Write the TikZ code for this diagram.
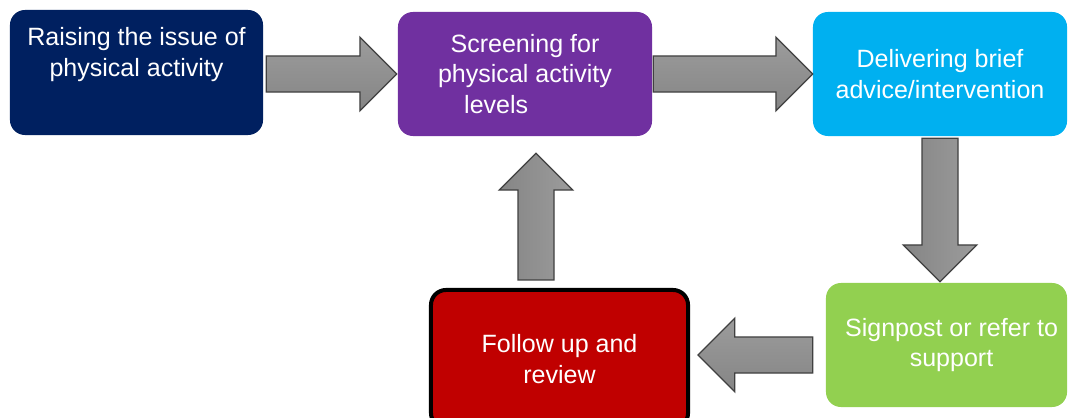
\documentclass[tikz,border=0pt]{standalone}
\usepackage{fontspec}
\setmainfont{Liberation Sans}
\usetikzlibrary{calc, positioning}
\definecolor{boxnavy}{HTML}{002060}
\definecolor{boxpurple}{HTML}{7030A0}
\definecolor{boxcyan}{HTML}{00B0F0}
\definecolor{boxgreen}{HTML}{92D050}
\definecolor{boxred}{HTML}{C00000}
\definecolor{arrowdark}{HTML}{858585}
\definecolor{arrowlight}{HTML}{9C9C9C}
\definecolor{arrowline}{HTML}{404040}
\tikzset{
    stage/.style={rectangle, rounded corners=0.375cm, inner sep=0pt, minimum width=6.35cm, minimum height=3.1cm, align=center, text=white, font=\fontsize{17.8pt}{22pt}\selectfont},
    fatarrow/.style={draw=arrowline, line width=0.9pt, line join=miter, top color=arrowlight, bottom color=arrowdark},
    vshade/.style={left color=arrowdark, right color=arrowlight}
}
% block arrow from tail #2 to tip #3
\newcommand{\fatarrow}[3][]{%
    \coordinate (fa-b) at ($(#3)!0.92cm!(#2)$);
    \draw[fatarrow,#1] ($(#2)!0.45cm!90:(#3)$) -- ($(fa-b)!0.45cm!90:(#3)$) -- ($(fa-b)!0.92cm!90:(#3)$)
        -- (#3) -- ($(fa-b)!0.92cm!-90:(#3)$) -- ($(fa-b)!0.45cm!-90:(#3)$) -- ($(#2)!0.45cm!-90:(#3)$) -- cycle;
}

\begin{document}
\begin{tikzpicture}[x=0.025cm, y=-0.025cm]
    \useasboundingbox (0,0) rectangle (1069,418);
    \clip (0,0) rectangle (1069,418);

    % Stages
    \node[stage, fill=boxnavy, minimum width=6.325cm, minimum height=3.125cm] (raise) at (136.5,72.5) {Raising the issue of\\physical activity\\\strut};
    \node[stage, fill=boxpurple] (screen) at (525,74) {Screening for\\physical activity\\levels\hspace*{2.3em}};
    \node[stage, fill=boxcyan] (deliver) at (940,74) {Delivering brief\\advice/intervention};
    \node[stage, fill=boxgreen, minimum width=6.025cm] (signpost) at (946.5,345) {\hspace*{0.4em}Signpost or refer to\\\hspace*{0.4em}support};
    \node[stage, fill=boxred, draw=black, line width=0.1cm, minimum width=6.425cm, minimum height=3.45cm] (follow) at (559.5,359) {Follow up and\\review};

    % Arrows
    \fatarrow{$(raise.east)+(3,1.5)$}{$(screen.west)+(-1,0)$}
    \fatarrow{$(screen.east)+(1,0)$}{$(deliver.west)+(0,0)$}
    \fatarrow[vshade]{$(deliver.south)+(0,2)$}{$(signpost.north)+(-6.5,-1)$}
    \fatarrow{$(signpost.west)+(-13,10)$}{$(follow.east)+(8,-4)$}
    \fatarrow[vshade]{$(follow.north)+(-23.5,-8)$}{$(screen.south)+(11,17)$}
\end{tikzpicture}
\end{document}
